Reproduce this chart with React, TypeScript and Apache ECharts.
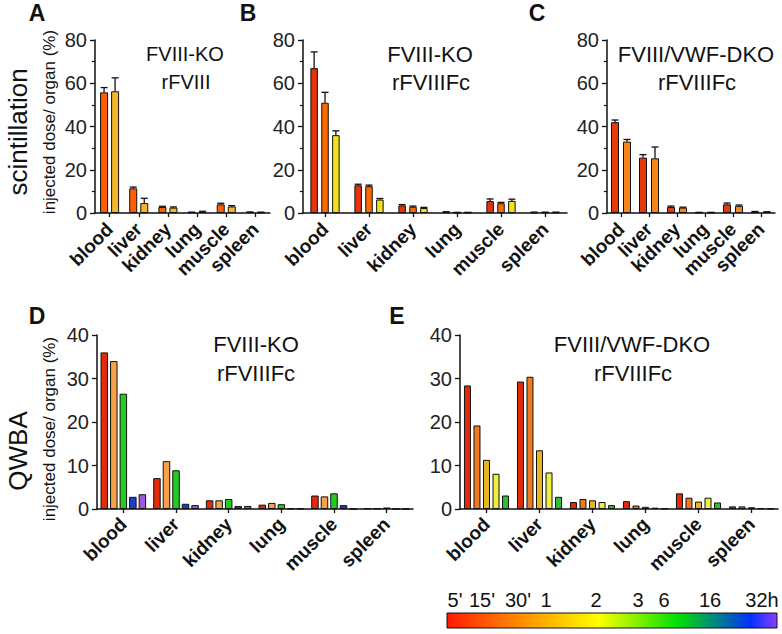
import React, { useEffect, useRef } from "react";
import * as echarts from "echarts";

const organs = ["blood", "liver", "kidney", "lung", "muscle", "spleen"];

// Panel A (scintillation, FVIII-KO, rFVIII)
const aS1 = [55.8, 11.4, 2.8, 0.3, 4.0, 0.4];
const aS1Err = [2.2, 0.6, 0.3, 0.1, 0.5, 0.1];
const aS2 = [56.3, 4.6, 2.5, 0.6, 3.0, 0.3];
const aS2Err = [6.2, 2.2, 0.3, 0.2, 0.4, 0.1];

// Panel B (scintillation, FVIII-KO, rFVIIIFc)
const bS1 = [67.0, 12.8, 3.5, 0.4, 5.5, 0.3];
const bS1Err = [7.5, 0.5, 0.4, 0.2, 1.0, 0.1];
const bS2 = [51.0, 12.4, 2.9, 0.2, 4.5, 0.3];
const bS2Err = [4.8, 0.5, 0.3, 0.1, 0.4, 0.1];
const bS3 = [36.0, 6.2, 2.3, 0.2, 5.6, 0.3];
const bS3Err = [2.0, 0.5, 0.3, 0.1, 0.8, 0.1];

// Panel C (scintillation, FVIII/VWF-DKO, rFVIIIFc)
const cS1 = [42.0, 25.6, 2.8, 0.2, 4.0, 0.6];
const cS1Err = [1.0, 1.4, 0.4, 0.1, 0.6, 0.1];
const cS2 = [33.0, 25.3, 2.5, 0.2, 3.3, 0.5];
const cS2Err = [1.0, 5.2, 0.2, 0.1, 0.4, 0.1];

// Panel D (QWBA, FVIII-KO, rFVIIIFc)
const dS1 = [36.0, 7.1, 2.0, 1.0, 3.1, 0.15];
const dS2 = [34.0, 11.0, 2.0, 1.4, 2.9, 0.15];
const dS3 = [26.5, 8.9, 2.3, 1.1, 3.6, 0.35];
const dS4 = [2.8, 1.2, 0.7, 0.15, 0.9, 0];
const dS5 = [3.4, 0.9, 0.7, 0.1, 0, 0];

// Panel E (QWBA, FVIII/VWF-DKO, rFVIIIFc)
const eS1 = [28.4, 29.3, 1.6, 1.8, 3.6, 0.6];
const eS2 = [19.2, 30.4, 2.3, 0.8, 2.6, 0.6];
const eS3 = [11.3, 13.5, 2.0, 0.5, 1.7, 0.4];
const eS4 = [8.1, 8.4, 1.6, 0.3, 2.6, 0.2];
const eS5 = [3.1, 2.8, 0.9, 0.1, 1.5, 0.1];

const colorbarLabels = ["5'", "15'", "30'", "1", "2", "3", "6", "16", "32h"];
const colorbarLabelX = [455, 482, 518, 546, 596, 638, 664, 710, 762];

const FONT = 'Arial, "Liberation Sans", Helvetica, sans-serif';

function bars(
  xi: number,
  values: number[][],
  colors: string[],
  width: number,
  gap: number
) {
  return values.map((v, i) => ({
    type: "bar",
    xAxisIndex: xi,
    yAxisIndex: xi,
    data: v,
    barWidth: width,
    barGap: `${Math.round(gap * 100)}%`,
    itemStyle: { color: colors[i], borderColor: "#111", borderWidth: 1 },
    z: 2,
  }));
}

function errs(
  xi: number,
  values: number[],
  errors: number[],
  idx: number,
  n: number,
  width: number,
  gap: number
) {
  return {
    type: "custom",
    xAxisIndex: xi,
    yAxisIndex: xi,
    z: 5,
    encode: { x: 0, y: 1 },
    data: values.map((v, i) => [i, v, errors[i]]),
    renderItem: (_p: any, api: any) => {
      const c = api.value(0);
      const v = api.value(1);
      const e = api.value(2);
      const base = api.coord([c, v]);
      const top = api.coord([c, v + e]);
      const off = (idx - (n - 1) / 2) * width * (1 + gap);
      const x = base[0] + off;
      return {
        type: "group",
        children: [
          {
            type: "line",
            shape: { x1: x, y1: base[1], x2: x, y2: top[1] },
            style: { stroke: "#111", lineWidth: 1.3 },
          },
          {
            type: "line",
            shape: { x1: x - 3.5, y1: top[1], x2: x + 3.5, y2: top[1] },
            style: { stroke: "#111", lineWidth: 1.3 },
          },
        ],
      };
    },
  };
}

function txt(
  text: string,
  x: number,
  y: number,
  size: number,
  opts: any = {}
) {
  return {
    type: "text",
    x,
    y,
    rotation: opts.rotation || 0,
    z: 20,
    style: {
      text,
      fontSize: size,
      fontFamily: FONT,
      fontWeight: opts.bold ? "bold" : "normal",
      fill: "#111",
      align: "center",
      verticalAlign: "middle",
      textAlign: "center",
      textVerticalAlign: "middle",
    },
  };
}

export default function App() {
  const ref = useRef<HTMLDivElement>(null);

  useEffect(() => {
    if (!ref.current) return;
    const chart = echarts.init(ref.current, null, { renderer: "svg" });

    const grids = [
      { left: 95, top: 40, width: 175, height: 173 },
      { left: 303, top: 40, width: 264, height: 173 },
      { left: 607, top: 40, width: 168, height: 173 },
      { left: 97, top: 335, width: 316, height: 174 },
      { left: 460, top: 335, width: 318, height: 174 },
    ];

    const axisLine = { show: true, lineStyle: { color: "#111", width: 1.5 } };

    const xAxes = grids.map((_, i) => ({
      type: "category",
      gridIndex: i,
      data: organs,
      axisLine,
      axisTick: {
        show: true,
        alignWithLabel: true,
        length: 4,
        lineStyle: { color: "#111", width: 1.3 },
      },
      axisLabel: {
        interval: 0,
        rotate: 45,
        fontSize: i < 3 ? 19 : 19,
        fontWeight: "bold",
        fontFamily: FONT,
        color: "#111",
        margin: i < 3 ? 13 : 12,
      },
    }));

    const yAxes = grids.map((_, i) => ({
      type: "value",
      gridIndex: i,
      min: 0,
      max: i < 3 ? 80 : 40,
      interval: i < 3 ? 20 : 10,
      axisLine,
      axisTick: {
        show: true,
        length: 5,
        lineStyle: { color: "#111", width: 1.3 },
      },
      minorTick: {
        show: i < 3,
        splitNumber: 2,
        length: 3,
        lineStyle: { color: "#111", width: 1.2 },
      },
      splitLine: { show: false },
      axisLabel: {
        fontSize: 20,
        fontFamily: FONT,
        color: "#222",
        margin: 8,
      },
    }));

    const aCol = ["#FF5E00", "#F7B52C"];
    const bCol = ["#E6320E", "#FF6A00", "#F2E21E"];
    const cCol = ["#E8380E", "#F5861A"];
    const dCol = ["#E32A0A", "#F5A248", "#22CC22", "#1A3FC8", "#9A5ADC"];
    const eCol = ["#E02A0A", "#F07A22", "#E8B424", "#EEF040", "#2EBE3A"];

    const series: any[] = [
      ...bars(0, [aS1, aS2], aCol, 8, 0.375),
      errs(0, aS1, aS1Err, 0, 2, 8, 0.375),
      errs(0, aS2, aS2Err, 1, 2, 8, 0.375),
      ...bars(1, [bS1, bS2, bS3], bCol, 7.5, 0.45),
      errs(1, bS1, bS1Err, 0, 3, 7.5, 0.45),
      errs(1, bS2, bS2Err, 1, 3, 7.5, 0.45),
      errs(1, bS3, bS3Err, 2, 3, 7.5, 0.45),
      ...bars(2, [cS1, cS2], cCol, 8, 0.5),
      errs(2, cS1, cS1Err, 0, 2, 8, 0.5),
      errs(2, cS2, cS2Err, 1, 2, 8, 0.5),
      ...bars(3, [dS1, dS2, dS3, dS4, dS5], dCol, 7.5, 0.27),
      ...bars(4, [eS1, eS2, eS3, eS4, eS5], eCol, 7, 0.36),
    ];

    const graphic: any[] = [
      txt("A", 37, 13, 23, { bold: true }),
      txt("B", 248, 13, 23, { bold: true }),
      txt("C", 537, 13, 23, { bold: true }),
      txt("D", 37, 316, 23, { bold: true }),
      txt("E", 397, 316, 23, { bold: true }),
      txt("scintillation", 18, 132, 26, { rotation: Math.PI / 2 }),
      txt("QWBA", 18, 451, 26, { rotation: Math.PI / 2 }),
      txt("injected dose/ organ (%)", 49, 122, 17, { rotation: Math.PI / 2 }),
      txt("injected dose/ organ (%)", 49, 429, 17, { rotation: Math.PI / 2 }),
      txt("FVIII-KO", 185, 54, 20),
      txt("rFVIII", 186, 82, 20),
      txt("FVIII-KO", 430, 54, 22),
      txt("rFVIIIFc", 431, 82, 22),
      txt("FVIII/VWF-DKO", 696, 54, 22),
      txt("rFVIIIFc", 697, 82, 22),
      txt("FVIII-KO", 256, 344, 22),
      txt("rFVIIIFc", 256, 373, 22),
      txt("FVIII/VWF-DKO", 632, 344, 22),
      txt("rFVIIIFc", 633, 373, 22),
      {
        type: "rect",
        shape: { x: 447, y: 613, width: 330, height: 15 },
        z: 20,
        style: {
          stroke: "#111",
          lineWidth: 1,
          fill: {
            type: "linear",
            x: 0,
            y: 0,
            x2: 1,
            y2: 0,
            colorStops: [
              { offset: 0, color: "#FF1A00" },
              { offset: 0.22, color: "#FF8C00" },
              { offset: 0.46, color: "#FFFF00" },
              { offset: 0.7, color: "#00E000" },
              { offset: 0.92, color: "#0030FF" },
              { offset: 1, color: "#8A40FF" },
            ],
          },
        },
      },
      ...colorbarLabels.map((l, i) => txt(l, colorbarLabelX[i], 600, 20)),
    ];

    chart.setOption({
      animation: false,
      backgroundColor: "#ffffff",
      grid: grids,
      xAxis: xAxes,
      yAxis: yAxes,
      series,
      graphic,
    });

    return () => chart.dispose();
  }, []);

  return (
    <div
      ref={ref}
      style={{ position: "absolute", left: 0, top: 0, width: 782, height: 634 }}
    />
  );
}
